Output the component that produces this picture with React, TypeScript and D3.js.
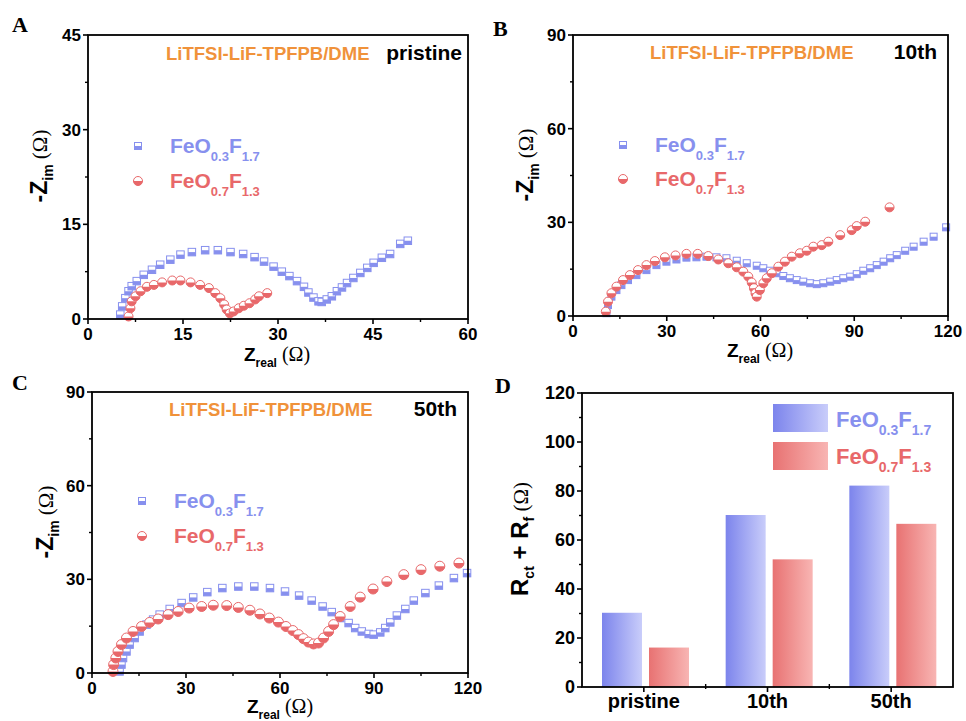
import React from 'react';
import * as d3 from 'd3';

const BLUE = '#8790EE';
const RED = '#E8686A';
const ORANGE = '#F0923A';
const SANS = '"Liberation Sans", Arial, sans-serif';
const SERIF = '"Liberation Serif", "Times New Roman", serif';

// ---- Panel A (pristine) ----
const aXTicks = [0, 15, 30, 45, 60];
const aYTicks = [0, 15, 30, 45];
const aBlue: [number, number][] = [
  [5.1, 0.7], [5.4, 2.0], [5.9, 3.3], [6.4, 4.4], [6.9, 5.2], [7.7, 6.0], [8.8, 7.0], [10.1, 7.8],
  [11.4, 8.6], [13.0, 9.4], [14.6, 10.2], [16.4, 10.6], [18.5, 10.9], [20.5, 10.9], [22.5, 10.6],
  [24.5, 10.3], [26.3, 9.8], [27.8, 9.1], [29.3, 8.3], [30.6, 7.5], [31.8, 6.8], [33.0, 6.0],
  [34.1, 5.1], [34.8, 4.2], [35.6, 3.4], [36.4, 2.8], [36.9, 2.7], [37.7, 3.1], [38.5, 3.6],
  [39.3, 4.4], [40.1, 5.0], [40.9, 5.7], [41.9, 6.5], [43.0, 7.3], [44.1, 8.1], [45.1, 8.9],
  [46.4, 9.7], [47.7, 10.3], [49.3, 11.9], [50.5, 12.4],
];
const aRed: [number, number][] = [
  [6.4, 0.4], [6.7, 1.7], [6.9, 2.8], [7.5, 3.6], [8.3, 4.4], [9.3, 5.1], [10.4, 5.4], [11.7, 5.8],
  [13.3, 6.1], [14.6, 6.1], [16.2, 5.8], [17.7, 5.4], [19.1, 4.9], [20.1, 4.1], [20.9, 3.3],
  [21.5, 2.3], [21.9, 1.5], [22.4, 0.9], [23.0, 1.2], [23.8, 1.7], [24.6, 2.1], [25.5, 2.5],
  [26.4, 3.1], [27.0, 3.6], [28.3, 4.1],
];

// ---- Panel B (10th) ----
const bXTicks = [0, 30, 60, 90, 120];
const bYTicks = [0, 30, 60, 90];
const bBlue: [number, number][] = [
  [10.7, 0.9], [11.2, 3.5], [12.3, 6.2], [13.9, 8.3], [15.5, 9.9], [17.6, 11.5], [20.3, 13.1],
  [23.5, 14.7], [26.7, 16.3], [29.9, 17.4], [33.1, 18.1], [36.3, 18.7], [39.5, 18.8], [42.7, 19.0],
  [45.9, 18.8], [49.1, 18.5], [52.4, 17.7], [55.6, 16.9], [58.8, 16.1], [60.9, 15.3], [63.0, 14.5],
  [65.2, 13.7], [67.3, 12.8], [69.4, 12.1], [71.6, 11.5], [73.7, 11.0], [75.9, 10.5], [78.0, 10.2],
  [80.1, 10.5], [82.3, 11.0], [84.4, 11.5], [86.5, 12.1], [88.7, 12.6], [90.8, 13.4], [92.9, 14.5],
  [95.1, 15.3], [97.2, 16.3], [99.4, 17.4], [101.5, 18.5], [103.6, 19.5], [106.3, 20.9],
  [109.0, 22.2], [112.2, 23.8], [115.4, 25.4], [119.4, 28.4],
];
const bRed: [number, number][] = [
  [10.5, 1.4], [11.2, 4.6], [12.3, 7.3], [13.9, 9.4], [16.0, 11.5], [18.2, 13.1], [20.8, 14.7],
  [23.5, 16.3], [26.2, 17.6], [29.4, 18.8], [32.8, 19.4], [36.3, 19.9], [39.9, 19.9], [43.3, 19.2],
  [46.5, 18.1], [49.7, 16.9], [52.4, 15.6], [54.5, 14.2], [56.1, 12.6], [57.2, 10.7], [57.9, 8.9],
  [58.4, 7.3], [58.8, 6.2], [59.8, 8.3], [60.9, 10.5], [62.0, 12.1], [63.6, 13.7], [65.7, 15.8],
  [67.8, 17.4], [70.0, 19.0], [72.6, 20.1], [74.8, 20.9], [76.9, 22.2], [79.6, 22.7], [81.7, 23.8],
  [85.5, 25.9], [89.2, 27.5], [90.8, 28.8], [93.5, 30.2], [101.3, 34.8],
];

// ---- Panel C (50th) ----
const cXTicks = [0, 30, 60, 90, 120];
const cYTicks = [0, 30, 60, 90];
const cBlue: [number, number][] = [
  [8.8, 0.5], [9.4, 2.7], [9.9, 4.8], [11.0, 6.9], [12.0, 9.1], [13.6, 11.2], [15.2, 13.3],
  [17.4, 15.5], [19.5, 17.1], [21.6, 18.7], [24.8, 20.5], [28.6, 22.4], [32.3, 24.2], [36.8, 25.9],
  [41.6, 27.2], [46.7, 27.7], [51.8, 27.7], [56.8, 27.2], [61.6, 26.1], [66.1, 24.8], [70.1, 23.2],
  [73.6, 21.3], [76.5, 19.5], [79.2, 17.6], [81.9, 16.0], [84.0, 14.4], [86.1, 13.3], [88.3, 12.5],
  [89.9, 12.3], [92.0, 13.0], [93.6, 14.4], [95.2, 16.2], [97.3, 18.4], [100.0, 20.5],
  [102.7, 23.2], [106.4, 25.6], [110.7, 28.0], [115.5, 30.4], [119.7, 32.0],
];
const cRed: [number, number][] = [
  [6.7, 0.5], [6.9, 2.7], [7.6, 4.8], [8.3, 6.9], [9.4, 9.1], [11.0, 11.2], [13.1, 13.3],
  [15.8, 14.9], [18.4, 16.2], [21.1, 17.3], [24.3, 18.7], [27.5, 19.7], [31.0, 20.8], [35.0, 21.3],
  [38.7, 21.7], [43.0, 21.6], [46.7, 21.0], [50.4, 20.1], [53.6, 18.9], [56.6, 17.6], [59.5, 16.3],
  [61.9, 14.9], [64.1, 13.6], [65.9, 12.3], [67.5, 11.0], [69.1, 9.9], [70.7, 9.3], [72.3, 9.6],
  [73.9, 11.2], [75.5, 13.3], [77.1, 15.5], [79.2, 18.1], [82.4, 21.3], [85.6, 24.3], [89.7, 26.9],
  [94.1, 29.3], [99.5, 31.5], [105.0, 33.1], [111.0, 34.2], [117.1, 35.2],
];

// ---- Panel D (bars) ----
const dCategories = ['pristine', '10th', '50th'];
const dBlue = [30.3, 70.2, 82.2];
const dRed = [16.1, 52.1, 66.6];
const dYTicks = [0, 20, 40, 60, 80, 100, 120];

function HalfSquare({ x, y, s, color }: { x: number; y: number; s: number; color: string }) {
  return (
    <g>
      <rect x={x - s / 2} y={y - s / 2} width={s} height={s} fill="#fff" stroke={color} strokeWidth={1} />
      <rect x={x - s / 2} y={y} width={s} height={s / 2} fill={color} />
    </g>
  );
}

function HalfCircle({ x, y, r, color }: { x: number; y: number; r: number; color: string }) {
  return (
    <g>
      <circle cx={x} cy={y} r={r} fill="#fff" stroke={color} strokeWidth={1} />
      <path d={`M${x - r},${y} A${r},${r} 0 0 0 ${x + r},${y} Z`} fill={color} />
    </g>
  );
}

function Formula({ x, y, color, a, b, size }: { x: number; y: number; color: string; a: string; b: string; size: number }) {
  const sub = Math.round(size * 0.62);
  const d = Math.round(size * 0.38);
  return (
    <text x={x} y={y} fill={color} fontFamily={SANS} fontWeight="bold" fontSize={size}>
      FeO
      <tspan fontSize={sub} dy={d}>{a}</tspan>
      <tspan fontSize={size} dy={-d}>F</tspan>
      <tspan fontSize={sub} dy={d}>{b}</tspan>
    </text>
  );
}

type NyqProps = {
  L: number; R: number; T: number; B: number;
  xMax: number; yMax: number; xTicks: number[]; yTicks: number[];
  blue: [number, number][]; red: [number, number][];
  letter: string; letterX: number; letterY: number;
  cycle: string; annX: number; cycX: number; annY: number;
  legX: number; legY1: number; legY2: number;
  xTitleX: number; xTitleY: number; yTitleX: number; yTitleY: number;
  sq: number; cr: number;
};

function Nyquist(p: NyqProps) {
  const x = d3.scaleLinear().domain([0, p.xMax]).range([p.L, p.R]);
  const y = d3.scaleLinear().domain([0, p.yMax]).range([p.B, p.T]);
  const xMinor = p.xTicks.slice(1).map((t, i) => (t + p.xTicks[i]) / 2);
  const yMinor = p.yTicks.slice(1).map((t, i) => (t + p.yTicks[i]) / 2);
  return (
    <g>
      <text x={p.letterX} y={p.letterY} fontFamily={SERIF} fontWeight="bold" fontSize={22}>{p.letter}</text>
      {p.blue.map((d, i) => (
        <HalfSquare key={'b' + i} x={x(d[0])} y={y(d[1])} s={p.sq} color={BLUE} />
      ))}
      {p.red.map((d, i) => (
        <HalfCircle key={'r' + i} x={x(d[0])} y={y(d[1])} r={p.cr} color={RED} />
      ))}
      <rect x={p.L} y={p.T} width={p.R - p.L} height={p.B - p.T} fill="none" stroke="#000" strokeWidth={1.8} />
      {p.xTicks.map((t) => (
        <g key={'xt' + t}>
          <line x1={x(t)} x2={x(t)} y1={p.B} y2={p.B + 5} stroke="#000" strokeWidth={1.6} />
          <text x={x(t)} y={p.B + 21} textAnchor="middle" fontFamily={SANS} fontWeight="bold" fontSize={17}>{t}</text>
        </g>
      ))}
      {xMinor.map((t) => (
        <line key={'xm' + t} x1={x(t)} x2={x(t)} y1={p.B} y2={p.B + 3} stroke="#000" strokeWidth={1.4} />
      ))}
      {p.yTicks.map((t) => (
        <g key={'yt' + t}>
          <line x1={p.L - 5} x2={p.L} y1={y(t)} y2={y(t)} stroke="#000" strokeWidth={1.6} />
          <text x={p.L - 7} y={y(t)} dy="0.36em" textAnchor="end" fontFamily={SANS} fontWeight="bold" fontSize={17}>{t}</text>
        </g>
      ))}
      {yMinor.map((t) => (
        <line key={'ym' + t} x1={p.L - 3} x2={p.L} y1={y(t)} y2={y(t)} stroke="#000" strokeWidth={1.4} />
      ))}
      <text x={p.annX} y={p.annY} fill={ORANGE} fontFamily={SANS} fontWeight="bold" fontSize={18.5}>LiTFSI-LiF-TPFPB/DME</text>
      <text x={p.cycX} y={p.annY} textAnchor="end" fill="#000" fontFamily={SANS} fontWeight="bold" fontSize={21}>{p.cycle}</text>
      <HalfSquare x={p.legX} y={p.legY1 - 7} s={7} color={BLUE} />
      <HalfCircle x={p.legX} y={p.legY2 - 7} r={4.5} color={RED} />
      <Formula x={p.legX + 32} y={p.legY1} color={BLUE} a="0.3" b="1.7" size={21} />
      <Formula x={p.legX + 32} y={p.legY2} color={RED} a="0.7" b="1.3" size={21} />
      <text x={p.xTitleX} y={p.xTitleY} textAnchor="middle" fontFamily={SANS} fontWeight="bold" fontSize={19}>
        Z<tspan fontSize={12} dy={6}>real</tspan>
        <tspan fontFamily={SERIF} fontWeight="normal" fontSize={20} dy={-6}> (Ω)</tspan>
      </text>
      <text transform={`translate(${p.yTitleX},${p.yTitleY}) rotate(-90)`} textAnchor="middle" fontFamily={SANS} fontWeight="bold" fontSize={23}>
        -Z<tspan fontSize={14} dy={6}>im</tspan>
        <tspan fontFamily={SERIF} fontWeight="normal" fontSize={21} dy={-6}> (Ω)</tspan>
      </text>
    </g>
  );
}

function Bars() {
  const L = 582, R = 953, T = 393, B = 687;
  const x = d3.scaleBand<string>().domain(dCategories).range([L, R]).padding(0);
  const y = d3.scaleLinear().domain([0, 120]).range([B, T]);
  const bw = 40;
  const off1 = 20;
  const off2 = 67;
  const yMinor = dYTicks.slice(1).map((t, i) => (t + dYTicks[i]) / 2);
  const bounds = dCategories.slice(1).map((c) => x(c) as number);
  return (
    <g>
      <defs>
        <linearGradient id="gBlue" x1="0" x2="1" y1="0" y2="0">
          <stop offset="0" stopColor="#7C84EC" />
          <stop offset="1" stopColor="#C9CDFA" />
        </linearGradient>
        <linearGradient id="gRed" x1="0" x2="1" y1="0" y2="0">
          <stop offset="0" stopColor="#E87272" />
          <stop offset="1" stopColor="#F8B5B3" />
        </linearGradient>
      </defs>
      <text x={495} y={393} fontFamily={SERIF} fontWeight="bold" fontSize={22}>D</text>
      {dCategories.map((c, i) => (
        <g key={c}>
          <rect x={(x(c) as number) + off1} y={y(dBlue[i])} width={bw} height={B - y(dBlue[i])} fill="url(#gBlue)" />
          <rect x={(x(c) as number) + off2} y={y(dRed[i])} width={bw} height={B - y(dRed[i])} fill="url(#gRed)" />
          <line x1={(x(c) as number) + x.bandwidth() / 2} x2={(x(c) as number) + x.bandwidth() / 2} y1={B} y2={B + 5} stroke="#000" strokeWidth={1.6} />
          <text x={(x(c) as number) + x.bandwidth() / 2} y={708} textAnchor="middle" fontFamily={SANS} fontWeight="bold" fontSize={20}>{c}</text>
        </g>
      ))}
      {bounds.map((b) => (
        <line key={'bd' + b} x1={b} x2={b} y1={B - 3} y2={B + 2} stroke="#000" strokeWidth={1.4} />
      ))}
      <rect x={L} y={T} width={R - L} height={B - T} fill="none" stroke="#000" strokeWidth={1.8} />
      {dYTicks.map((t) => (
        <g key={'dy' + t}>
          <line x1={L - 5} x2={L} y1={y(t)} y2={y(t)} stroke="#000" strokeWidth={1.6} />
          <text x={L - 7} y={y(t)} dy="0.36em" textAnchor="end" fontFamily={SANS} fontWeight="bold" fontSize={18}>{t}</text>
        </g>
      ))}
      {yMinor.map((t) => (
        <line key={'dm' + t} x1={L - 3} x2={L} y1={y(t)} y2={y(t)} stroke="#000" strokeWidth={1.4} />
      ))}
      <rect x={773} y={404} width={55} height={28} fill="url(#gBlue)" />
      <rect x={773} y={442} width={55} height={28} fill="url(#gRed)" />
      <Formula x={836} y={427} color={BLUE} a="0.3" b="1.7" size={22} />
      <Formula x={836} y={464} color={RED} a="0.7" b="1.3" size={22} />
      <text transform={`translate(528,539) rotate(-90)`} textAnchor="middle" fontFamily={SANS} fontWeight="bold" fontSize={24}>
        R<tspan fontSize={14} dy={6}>ct</tspan>
        <tspan fontSize={24} dy={-6}> + R</tspan>
        <tspan fontSize={14} dy={6}>f</tspan>
        <tspan fontFamily={SERIF} fontWeight="normal" fontSize={21} dy={-6}> (Ω)</tspan>
      </text>
    </g>
  );
}

export default function App() {
  return (
    <svg width={966} height={721} style={{ position: 'absolute', left: 0, top: 0, background: '#fff' }}>
      <rect x={0} y={0} width={966} height={721} fill="#fff" />
      <Nyquist
        L={88} R={468} T={35} B={319} xMax={60} yMax={45} xTicks={aXTicks} yTicks={aYTicks}
        blue={aBlue} red={aRed} letter="A" letterX={12} letterY={32}
        cycle="pristine" annX={166} cycX={462} annY={60}
        legX={138} legY1={153} legY2={188}
        xTitleX={277} xTitleY={361} yTitleX={47} yTitleY={166} sq={7.5} cr={4.5}
      />
      <Nyquist
        L={573} R={948} T={35} B={316} xMax={120} yMax={90} xTicks={bXTicks} yTicks={bYTicks}
        blue={bBlue} red={bRed} letter="B" letterX={493} letterY={36}
        cycle="10th" annX={650} cycX={937} annY={59}
        legX={623} legY1={152} legY2={186}
        xTitleX={760} xTitleY={357} yTitleX={533} yTitleY={165} sq={7} cr={4.5}
      />
      <Nyquist
        L={92} R={468} T={392} B={673} xMax={120} yMax={90} xTicks={cXTicks} yTicks={cYTicks}
        blue={cBlue} red={cRed} letter="C" letterX={12} letterY={390}
        cycle="50th" annX={169} cycX={457} annY={416}
        legX={142} legY1={508} legY2={543}
        xTitleX={280} xTitleY={713} yTitleX={53} yTitleY={522} sq={7.5} cr={5}
      />
      <Bars />
    </svg>
  );
}
